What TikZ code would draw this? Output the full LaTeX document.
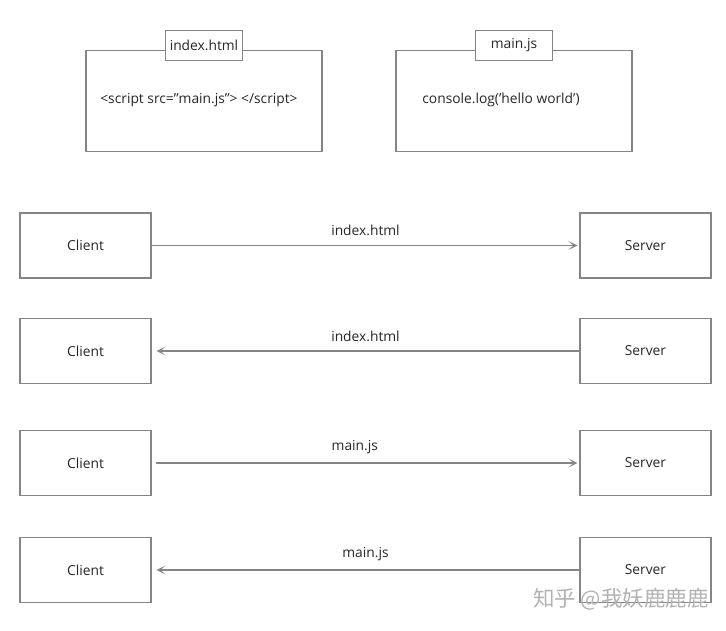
\documentclass[tikz,border=0pt]{standalone}
\usepackage{fontspec}
\setmainfont{Open Sans}
\newfontfamily\cjk{Noto Sans CJK SC}
\usetikzlibrary{arrows.meta,positioning}
\definecolor{linegray}{HTML}{858585}
\definecolor{textgray}{HTML}{262626}

\begin{document}
\begin{tikzpicture}[x=1pt, y=-1pt,
		box/.style={draw=linegray, line width=1.1pt, inner sep=0pt, minimum width=131pt, minimum height=65pt, text=textgray, font=\fontsize{13.8}{16}\selectfont},
		filebox/.style={draw=linegray, line width=1.1pt, inner sep=0pt, minimum width=236pt, minimum height=101pt},
		tabbox/.style={draw=linegray, line width=1.1pt, fill=white, inner sep=0pt, minimum width=77pt, minimum height=30pt, text=textgray, font=\fontsize{13.8}{16}\selectfont},
		msg/.style={draw=linegray, line width=1.1pt, -{Stealth[length=9pt, width=9pt, inset=5pt]}},
		msglabel/.style={text=textgray, font=\fontsize{13.8}{16}\selectfont, inner sep=0pt, above=9pt}]
		%%%%% START %%%%%
		
		\useasboundingbox (0, 0) rectangle (726, 630);
		
		% the two files
		\node[filebox] (index) at (204, 101.2) {};
		\node[tabbox] (indextab) at ([yshift=4.7pt]index.north) {index.html};
		\node[text=textgray, font=\fontsize{13.8}{16}\selectfont] (indexcode) at (199, 100) {<script src="main.js"> </script>};
		
		\node[filebox] (mainjs) at (514, 101.2) {};
		\node[tabbox] (mainjstab) at ([yshift=4.7pt]mainjs.north) {main.js};
		\node[text=textgray, font=\fontsize{13.8}{16}\selectfont] (mainjscode) at (501, 100) {console.log('hello world')};
		
		% client / server rows
		\node[box] (client1) at (85.5, 245.5) {Client};
		\node[box] (server1) at (645.5, 245.5) {Server};
		\draw[msg, shorten >=2pt] (client1) -- node[msglabel] (label1) {index.html} (server1);
		
		\node[box] (client2) at (85.5, 351) {Client};
		\node[box] (server2) at (645.5, 351) {Server};
		\draw[msg, shorten >=5pt] (server2) -- node[msglabel] (label2) {index.html} (client2);
		
		\node[box] (client3) at (85.5, 463) {Client};
		\node[box] (server3) at (645.5, 463) {Server};
		\draw[msg, shorten <=4pt, shorten >=2pt] (client3) -- node[msglabel, pos=0.475] (label3) {main.js} (server3);
		
		\node[box] (client4) at (85.5, 570) {Client};
		\node[box] (server4) at (645.5, 570) {Server};
		\draw[msg, shorten >=5pt] (server4) -- node[msglabel] (label4) {main.js} (client4);
		
		% watermark
		\node[text=black!30, font=\cjk\fontsize{21.5}{24}\selectfont] (mark) at (621, 599) {知乎 @我妖鹿鹿鹿};
		
		%%%%% END %%%%%
\end{tikzpicture}
\end{document}
